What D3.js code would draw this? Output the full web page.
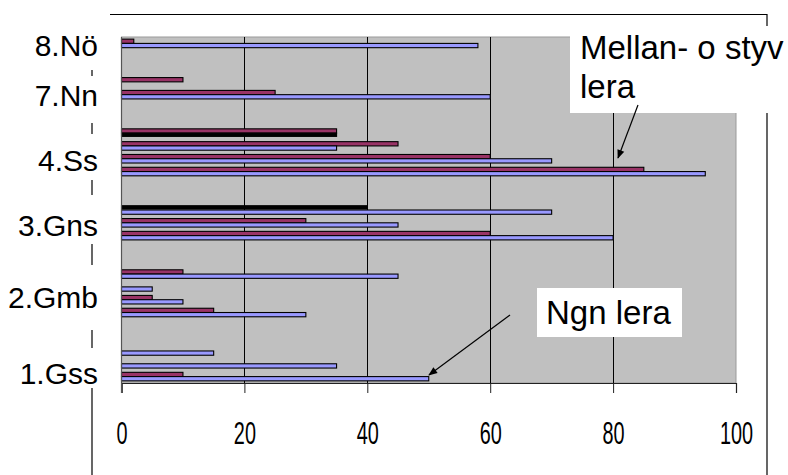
<!DOCTYPE html>
<html>
<head>
<meta charset="utf-8">
<script src="https://cdn.jsdelivr.net/npm/d3@7/dist/d3.min.js"></script>
<style>
  html, body { margin: 0; padding: 0; background: #fff; }
  svg { display: block; }
</style>
</head>
<body>
<svg id="chart" width="788" height="475"></svg>
<script>
// ---------------- DATA ----------------
// 27 category slots (top to bottom); empty strings are spacer slots
const slotGroups = [
  "8.Nö", "", "",
  "7.Nn", "7.Nn", "", "",
  "4.Ss", "4.Ss", "4.Ss", "4.Ss", "", "",
  "3.Gns", "3.Gns", "3.Gns", "", "",
  "2.Gmb", "2.Gmb", "2.Gmb", "2.Gmb", "", "",
  "1.Gss", "1.Gss", "1.Gss"
];
// series A (maroon) and series B (blue), one value per slot
const seriesA = [2, 0, 0, 10, 25, 0, 0, 35, 45, 60, 85, 0, 0, 40, 30, 60, 0, 0, 10, 0, 5, 15, 0, 0, 0, 0, 10];
const seriesB = [58, 0, 0, 0, 60, 0, 0, 35, 35, 70, 95, 0, 0, 70, 45, 80, 0, 0, 45, 5, 10, 30, 0, 0, 15, 35, 50];
// bars drawn dark in the original (slot index, series)
const darkBars = [[7, "B"], [13, "A"]];
const groupLabels = ["8.Nö", "7.Nn", "4.Ss", "3.Gns", "2.Gmb", "1.Gss"];
const xTicks = [0, 20, 40, 60, 80, 100];
const noteMellan = ["Mellan- o styv", "lera"];
const noteNgn = "Ngn lera";

// ---------------- LAYOUT ----------------
const svg = d3.select("#chart");
const plot = { left: 121.5, right: 736, top: 37, bottom: 383 };
const colors = { A: "#993366", B: "#9999FF", dark: "#000000", plotBg: "#C0C0C0" };
const FONT = "Liberation Sans, Arial, sans-serif";

svg.append("rect").attr("width", 788).attr("height", 475).attr("fill", "#fff");

// outer frame
const frame = svg.append("g").attr("stroke", "#000").attr("stroke-width", 1.2).attr("fill", "none");
frame.append("line").attr("x1", 92).attr("x2", 767).attr("y1", 14.5).attr("y2", 14.5);
frame.append("line").attr("x1", 767).attr("x2", 767).attr("y1", 14).attr("y2", 475);
frame.append("line").attr("x1", 92).attr("x2", 92).attr("y1", 14).attr("y2", 475);

const x = d3.scaleLinear().domain([0, 100]).range([plot.left, plot.right]);
const slots = d3.range(slotGroups.length);
const y = d3.scaleBand().domain(slots).range([plot.top, plot.bottom]).paddingInner(0).paddingOuter(0);
const bw = y.bandwidth();
const pairH = bw / 1.5;           // gap width 50%
const barH = pairH / 2;
const ySub = d3.scaleBand().domain(["A", "B"]).range([(bw - pairH) / 2, (bw + pairH) / 2]);

// plot area
svg.append("rect")
  .attr("x", plot.left).attr("y", plot.top)
  .attr("width", plot.right - plot.left).attr("height", plot.bottom - plot.top)
  .attr("fill", colors.plotBg).attr("stroke", "#9a9a9a").attr("stroke-width", 1);

// gridlines
svg.append("g").selectAll("line").data(xTicks.filter(d => d > 0 && d < 100)).join("line")
  .attr("x1", d => Math.round(x(d)) + 0.5).attr("x2", d => Math.round(x(d)) + 0.5)
  .attr("y1", plot.top).attr("y2", plot.bottom)
  .attr("stroke", "#000").attr("stroke-width", 1);

// bars
const darkSet = new Set(darkBars.map(d => d[0] + d[1]));
const bars = [];
slots.forEach(i => {
  if (seriesA[i] > 0) bars.push({ slot: i, s: "A", v: seriesA[i] });
  if (seriesB[i] > 0) bars.push({ slot: i, s: "B", v: seriesB[i] });
});
svg.append("g").selectAll("rect").data(bars).join("rect")
  .attr("x", x(0))
  .attr("y", d => y(d.slot) + ySub(d.s))
  .attr("width", d => x(d.v) - x(0))
  .attr("height", d => darkSet.has(d.slot + d.s) ? barH - 1 : barH)
  .attr("fill", d => darkSet.has(d.slot + d.s) ? colors.dark : colors[d.s])
  .attr("stroke", "#000").attr("stroke-width", 1.1);

// x axis
const xAxis = d3.axisBottom(x).tickValues(xTicks).tickSize(10).tickFormat(d3.format("d"));
const ax = svg.append("g").attr("transform", `translate(0,${plot.bottom})`).call(xAxis);
ax.select(".domain").attr("stroke", "#222").attr("stroke-width", 1.2);
ax.selectAll(".tick line").attr("stroke", "#222");
ax.selectAll(".tick text").remove();
ax.selectAll(".tick").append("text")
  .attr("text-anchor", "middle")
  .attr("transform", "translate(0,61) scale(0.64,1)")
  .attr("fill", "#000")
  .attr("font-family", FONT)
  .attr("font-size", 31)
  .text(d => d);
// left axis line
svg.append("line").attr("x1", plot.left).attr("x2", plot.left).attr("y1", plot.top).attr("y2", plot.bottom + 10)
  .attr("stroke", "#555").attr("stroke-width", 1.2);

// group labels (text boxes with white background covering the frame)
const labelLayout = [
  { top: 0, bottom: 70, base: 56 },
  { top: 76, bottom: 123, base: 106 },
  { top: 134, bottom: 180, base: 171 },
  { top: 195, bottom: 244, base: 236 },
  { top: 265, bottom: 330, base: 308 },
  { top: 348, bottom: 388, base: 384 }
];
const lg = svg.append("g");
groupLabels.forEach((lab, i) => {
  const L = labelLayout[i];
  lg.append("rect").attr("x", 0).attr("y", L.top).attr("width", 110).attr("height", L.bottom - L.top).attr("fill", "#fff");
  lg.append("text").attr("x", 98).attr("y", L.base).attr("text-anchor", "end")
    .attr("font-family", FONT).attr("font-size", 30).attr("fill", "#000")
    .text(lab);
});

// arrowhead marker
svg.append("defs").append("marker")
  .attr("id", "arrow").attr("viewBox", "0 0 10 10").attr("refX", 9).attr("refY", 5)
  .attr("markerWidth", 10).attr("markerHeight", 9).attr("orient", "auto").attr("markerUnits", "userSpaceOnUse")
  .append("path").attr("d", "M0,1 L10,5 L0,9 Z").attr("fill", "#000");

// annotation: Mellan- o styv lera
svg.append("rect").attr("x", 570).attr("y", 26).attr("width", 218).attr("height", 87).attr("fill", "#fff");
svg.append("text").attr("font-family", FONT).attr("font-size", 33).attr("fill", "#000")
  .selectAll("tspan").data(noteMellan).join("tspan")
  .attr("x", 580).attr("y", (d, i) => 59 + i * 39).text(d => d);
svg.append("line").attr("x1", 638).attr("y1", 105).attr("x2", 618).attr("y2", 158)
  .attr("stroke", "#000").attr("stroke-width", 1.2).attr("marker-end", "url(#arrow)");

// annotation: Ngn lera
svg.append("rect").attr("x", 537).attr("y", 288).attr("width", 145).attr("height", 49).attr("fill", "#fff");
svg.append("text").attr("x", 546).attr("y", 324)
  .attr("font-family", FONT).attr("font-size", 33).attr("fill", "#000")
  .text(noteNgn);
svg.append("line").attr("x1", 510).attr("y1", 315).attr("x2", 429).attr("y2", 375)
  .attr("stroke", "#000").attr("stroke-width", 1.2).attr("marker-end", "url(#arrow)");
</script>
</body>
</html>
